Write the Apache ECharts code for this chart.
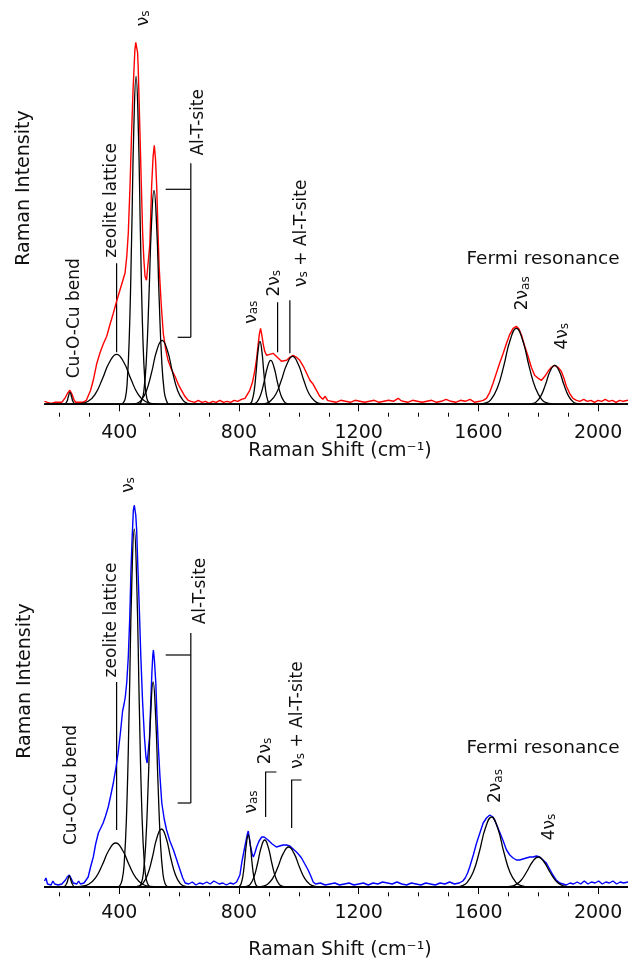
<!DOCTYPE html>
<html lang="en">
<head>
<meta charset="UTF-8">
<title>Raman spectra</title>
<style>
  html, body { margin: 0; padding: 0; background: #fff; }
  #chart { width: 628px; height: 965px; }
</style>
<script src="https://cdn.jsdelivr.net/npm/echarts@6/dist/echarts.min.js"></script>
</head>
<body>
<div id="chart"></div>
<script>
// x range and ticks (cm-1)
var shiftMin = 150, shiftMax = 2100;
var labelTicks = [400, 800, 1200, 1600, 2000];
var smallTicks = [200, 300, 500, 600, 700, 900, 1000, 1100, 1300, 1400, 1500, 1700, 1800, 1900, 2100];

// measured spectrum, top panel (red)  [shift, intensity]
var topSpectrum = [[150,3],[155,5],[160,2],[166,4],[172,1],[178,3],[184,2],[190,4],[196,2],[202,3],[208,2],[214,4],[220,7],[227,11],[235,14],[242,10],[248,5],[254,2],[260,3],[266,2],[272,3],[278,2],[284,3],[290,4],[296,6],[304,14],[313,24],[324,40],[335,51],[346,60],[358,68],[369,80],[380,91],[391,103],[402,114],[411,123],[419,131],[425,148],[430,171],[436,220],[441,271],[446,315],[452,354],[455,362],[458,364],[461,352],[463,338],[466,305],[469,271],[474,215],[478,171],[482,145],[486,128],[491,124],[497,126],[502,160],[508,218],[513,248],[517,259],[521,245],[525,218],[529,175],[533,138],[540,100],[547,71],[555,55],[563,44],[574,35],[586,28],[597,20],[608,14],[619,8],[630,4],[640,3],[652,2],[664,4],[676,2],[688,3],[700,1],[712,3],[724,2],[736,4],[748,2],[760,3],[772,2],[784,4],[796,3],[808,5],[820,6],[828,10],[836,14],[845,22],[853,34],[859,46],[864,60],[868,70],[872,76],[876,70],[881,60],[886,53],[892,49],[903,50],[914,51],[928,47],[942,43],[959,44],[970,47],[981,49],[992,47],[1003,44],[1015,38],[1026,31],[1037,24],[1048,20],[1059,14],[1070,8],[1080,5],[1088,8],[1096,4],[1108,3],[1124,2],[1140,4],[1156,3],[1172,2],[1188,4],[1204,3],[1220,2],[1236,3],[1252,4],[1268,2],[1284,3],[1300,4],[1316,3],[1332,6],[1340,4],[1348,3],[1364,2],[1380,4],[1396,3],[1412,2],[1428,3],[1444,4],[1460,2],[1476,3],[1492,5],[1508,3],[1524,2],[1540,4],[1556,3],[1572,5],[1588,2],[1604,3],[1616,4],[1627,6],[1638,12],[1649,21],[1660,31],[1671,41],[1683,51],[1694,61],[1705,70],[1716,76],[1727,78],[1736,75],[1744,69],[1755,58],[1766,48],[1777,37],[1788,29],[1800,26],[1811,24],[1822,28],[1833,33],[1844,37],[1855,39],[1866,37],[1877,33],[1886,26],[1894,18],[1905,11],[1916,6],[1928,4],[1939,3],[1952,5],[1964,3],[1976,4],[1988,2],[2000,4],[2012,3],[2024,5],[2036,3],[2048,4],[2060,2],[2072,4],[2084,3],[2100,4]];

// measured spectrum, bottom panel (blue)
var bottomSpectrum = [[150,6],[155,9],[160,3],[166,5],[172,2],[178,6],[184,3],[190,5],[196,2],[202,4],[208,3],[214,5],[220,7],[226,10],[233,12],[240,8],[246,4],[252,2],[258,3],[264,6],[270,3],[276,5],[282,4],[288,6],[296,10],[304,20],[313,30],[321,43],[330,54],[338,59],[346,64],[354,71],[363,80],[371,91],[380,104],[388,118],[396,134],[404,155],[411,176],[416,183],[420,190],[425,205],[430,230],[435,270],[439,317],[443,350],[447,377],[450,382],[452,384],[455,372],[458,357],[462,320],[467,277],[472,230],[478,184],[484,150],[489,130],[493,124],[497,124],[501,150],[505,184],[509,215],[512,232],[514,237],[517,228],[522,204],[526,170],[531,137],[536,110],[542,84],[550,68],[558,57],[569,46],[581,37],[592,27],[603,17],[612,9],[620,4],[632,3],[644,5],[656,2],[668,4],[680,3],[692,5],[704,3],[716,6],[722,5],[734,3],[746,4],[758,2],[770,4],[782,3],[792,5],[798,4],[803,12],[809,24],[816,35],[824,47],[828,53],[831,56],[835,48],[839,40],[844,33],[848,30],[853,34],[859,40],[867,46],[876,50],[884,50],[890,49],[897,47],[911,43],[925,40],[936,41],[947,42],[958,42],[970,41],[981,38],[992,35],[1001,32],[1009,29],[1020,23],[1031,17],[1040,11],[1048,5],[1056,3],[1072,4],[1088,2],[1104,3],[1120,4],[1136,2],[1152,3],[1168,4],[1184,2],[1200,3],[1216,4],[1232,2],[1248,4],[1264,3],[1280,5],[1296,4],[1312,3],[1328,5],[1344,3],[1360,2],[1376,4],[1392,3],[1408,2],[1424,4],[1440,3],[1456,2],[1472,4],[1488,3],[1504,5],[1520,3],[1536,4],[1548,6],[1556,9],[1564,14],[1571,20],[1583,32],[1594,44],[1605,54],[1616,64],[1627,69],[1638,72],[1649,70],[1660,63],[1671,55],[1683,46],[1694,37],[1705,32],[1716,29],[1727,27],[1738,27],[1749,28],[1760,29],[1772,30],[1783,30],[1794,31],[1805,30],[1816,27],[1827,24],[1838,18],[1849,12],[1860,7],[1872,4],[1883,3],[1894,2],[1906,4],[1918,3],[1930,5],[1942,3],[1954,6],[1966,3],[1978,5],[1990,4],[2002,6],[2014,3],[2026,5],[2038,4],[2050,6],[2062,3],[2074,5],[2086,4],[2100,5]];

// fitted bands, top panel
var topFits = [
  [[215,0],[225,3],[229,7],[235,12],[241,7],[245,3],[255,0]],
  [[240,0],[267,0.6],[296,3],[320,10.5],[343,25],[367,42],[391,50],[415,42],[439,25],[462,10.5],[486,3],[515,0.6],[540,0]],
  [[405,0],[414,2],[420,6],[426,20],[433.5,69],[441,164],[448.5,276],[456,328],[463.5,276],[471,164],[478.5,69],[486,20],[492,6],[498,2],[507,0]],
  [[465,0],[470,1],[475,4],[482,13],[490.5,45],[499,107],[507.5,180],[516,214],[524.5,180],[533,107],[541.5,45],[550,13],[557,4],[562,1],[567,0]],
  [[440,0],[459,1],[473,4],[490.5,13.4],[508,32],[525.5,54],[543,64],[560.5,54],[578,32],[595.5,13.4],[613,4],[627,1],[645,0]],
  [[830,0],[839,1],[844,4],[850.5,13],[857,31.5],[863.5,53],[870,63],[876.5,53],[883,31.5],[889.5,13],[896,4],[901,1],[910,0]],
  [[840,0],[852,0.8],[861,2.75],[872,9.2],[883.5,22],[895,37],[906,44],[917,37],[928.5,22],[940,9.2],[951,2.75],[960,0.8],[972,0]],
  [[870,0],[889,0.9],[904,3],[923,10],[941.5,24],[960,40],[979,48],[998,40],[1016.5,24],[1035,10],[1054,3],[1069,0.9],[1090,0]],
  [[1600,0],[1625,1.4],[1642,4.75],[1663,16],[1684.5,38],[1706,64],[1727,76],[1748,64],[1769.5,38],[1791,16],[1812,4.75],[1829,1.4],[1855,0]],
  [[1760,0],[1781,0.7],[1793,2.4],[1808.5,8.2],[1824,19.5],[1839.5,33],[1855,39],[1870.5,33],[1886,19.5],[1901.5,8.2],[1917,2.4],[1929,0.7],[1950,0]]
];

// fitted bands, bottom panel
var bottomFits = [
  [[213,0],[223,3],[227,6],[233,11],[239,6],[243,3],[253,0]],
  [[255,0],[271,0.5],[298,2.75],[320.5,9.2],[343,22],[365.5,37],[388,44],[410.5,37],[433,22],[455.5,9.2],[478,2.75],[505,0.5],[525,0]],
  [[395,0],[402,1.4],[409,6.6],[416,22],[424.5,75],[433,179],[441.5,301],[450,358],[458.5,301],[467,179],[475.5,75],[484,22],[491,6.6],[498,1.4],[505,0]],
  [[455,0],[467,0.8],[473.4,3.8],[480,12.8],[488.25,43],[496.5,102.5],[504.75,172],[513,205],[521.25,172],[529.5,102.5],[537.75,43],[546,12.8],[552.6,3.8],[559,0.8],[570,0]],
  [[445,0],[467,1.1],[479,3.6],[494.5,12.2],[510,29],[525.5,49],[541,58],[556.5,49],[572,29],[587.5,12.2],[603,3.6],[615,1.1],[635,0]],
  [[795,0],[802,0.9],[807,3.25],[813,11],[819,26],[825,43.7],[831,52],[837,43.7],[843,26],[849,11],[855,3.25],[860,0.9],[867,0]],
  [[815,0],[828,0.8],[838,2.9],[850,9.9],[862,23.5],[874,39.5],[886,47],[898,39.5],[910,23.5],[922,9.9],[934,2.9],[944,0.8],[957,0]],
  [[860,0],[880,0.8],[894,2.5],[912,8.4],[930,20],[948,33.6],[966,40],[984,33.6],[1002,20],[1020,8.4],[1038,2.5],[1052,0.8],[1072,0]],
  [[1520,0],[1546,1.4],[1562,4.4],[1582.5,14.7],[1603,35],[1623.5,59],[1644,70],[1664.5,59],[1685,35],[1705.5,14.7],[1726,4.4],[1742,1.4],[1770,0]],
  [[1680,0],[1706,0.6],[1722,1.9],[1741.5,6.3],[1761,15],[1780.5,25],[1800,30],[1819.5,25],[1839,15],[1858.5,6.3],[1878,1.9],[1894,0.6],[1915,0]]
];

function nu(sub) { return '{n|ν}{s|' + sub + '}'; }

// band labels, placed in data coordinates
var topNotes = [
  { text: '{t|Cu-O-Cu bend}', at: [245, 86] },
  { text: '{t|zeolite lattice}', at: [369, 204] },
  { text: nu('s'), at: [475, 386] },
  { text: '{t|Al-T-site}', at: [659, 282] },
  { text: nu('as'), at: [836, 92] },
  { text: '{t|2}' + nu('s'), at: [913, 121] },
  { text: nu('s') + '{t| + Al-T-site}', at: [1003, 171] },
  { text: '{f|Fermi resonance}', at: [1816, 146], flat: true },
  { text: '{t|2}' + nu('as'), at: [1744, 111] },
  { text: '{t|4}' + nu('s'), at: [1877, 68] }
];
var bottomNotes = [
  { text: '{t|Cu-O-Cu bend}', at: [237, 102] },
  { text: '{t|zeolite lattice}', at: [369, 267] },
  { text: nu('s'), at: [425, 402] },
  { text: '{t|Al-T-site}', at: [666, 296] },
  { text: nu('as'), at: [836, 85] },
  { text: '{t|2}' + nu('s'), at: [883, 136] },
  { text: nu('s') + '{t| + Al-T-site}', at: [992, 172] },
  { text: '{f|Fermi resonance}', at: [1816, 139], flat: true },
  { text: '{t|2}' + nu('as'), at: [1654, 101] },
  { text: '{t|4}' + nu('s'), at: [1832, 60] }
];
var topLines = [
  [[391, 52], [391, 141]],
  [[639, 241], [639, 67]],
  [[555, 215], [639, 215]],
  [[595, 67], [639, 67]],
  [[929, 52], [929, 102]],
  [[970, 51], [970, 104]]
];
var bottomLines = [
  [[391, 57], [391, 205]],
  [[639, 254], [639, 84]],
  [[555, 232], [639, 232]],
  [[595, 84], [639, 84]],
  [[889, 70], [889, 115], [925, 115]],
  [[976, 59], [976, 107], [1009, 107]]
];

var font = 'DejaVu Sans';
var chart = echarts.init(document.getElementById('chart'));

function shiftAxes(grid) {
  return [{
    type: 'value', gridIndex: grid, min: shiftMin, max: shiftMax, position: 'bottom',
    axisLine: { lineStyle: { color: '#000', width: 1 } },
    axisTick: { customValues: labelTicks, length: 7, lineStyle: { color: '#000' } },
    axisLabel: { customValues: labelTicks, color: '#111', fontSize: 19, fontFamily: font, margin: 11,
      formatter: function (v) { return String(v); } },
    splitLine: { show: false }
  }, {
    type: 'value', gridIndex: grid, min: shiftMin, max: shiftMax, position: 'bottom',
    axisLine: { show: false },
    axisTick: { customValues: smallTicks, length: 4, lineStyle: { color: '#000' } },
    axisLabel: { show: false },
    splitLine: { show: false }
  }];
}

function withBaseline(pts) {
  return [[shiftMin, 0]].concat(pts, [[shiftMax, 0]]);
}

var series = [
  { type: 'line', xAxisIndex: 0, yAxisIndex: 0, data: topSpectrum, showSymbol: false,
    lineStyle: { color: '#ff0000', width: 1.4 }, z: 2 },
  { type: 'line', xAxisIndex: 2, yAxisIndex: 1, data: bottomSpectrum, showSymbol: false,
    lineStyle: { color: '#0000ff', width: 1.4 }, z: 2 }
];
topFits.forEach(function (pts) {
  series.push({ type: 'line', xAxisIndex: 0, yAxisIndex: 0, data: withBaseline(pts), showSymbol: false,
    smooth: 0.5, lineStyle: { color: '#000', width: 1.3 }, z: 3 });
});
bottomFits.forEach(function (pts) {
  series.push({ type: 'line', xAxisIndex: 2, yAxisIndex: 1, data: withBaseline(pts), showSymbol: false,
    smooth: 0.5, lineStyle: { color: '#000', width: 1.3 }, z: 3 });
});

chart.setOption({
  animation: false,
  grid: [
    { left: 44.5, right: 0, top: 20, height: 392.7 },
    { left: 44.5, right: 0, top: 470, height: 422.3 }
  ],
  xAxis: shiftAxes(0).concat(shiftAxes(1)),
  yAxis: [
    { type: 'value', gridIndex: 0, min: -8.4, max: 384.3, show: false },
    { type: 'value', gridIndex: 1, min: -5.3, max: 417, show: false }
  ],
  series: series
});

var rich = {
  t: { fontSize: 17, fontFamily: font, lineHeight: 20, verticalAlign: 'bottom', fill: '#111' },
  f: { fontSize: 18.5, fontFamily: font, lineHeight: 20, verticalAlign: 'bottom', fill: '#111' },
  n: { fontSize: 17, fontFamily: font, lineHeight: 20, verticalAlign: 'bottom', fill: '#111' },
  s: { fontSize: 12, fontFamily: font, lineHeight: 9, verticalAlign: 'bottom', fill: '#111' }
};

var elements = [
  { type: 'text', x: 24, y: 188, rotation: Math.PI / 2,
    style: { text: 'Raman Intensity', font: '19px DejaVu Sans', fill: '#111', align: 'center', verticalAlign: 'middle' } },
  { type: 'text', x: 25, y: 681, rotation: Math.PI / 2,
    style: { text: 'Raman Intensity', font: '19px DejaVu Sans', fill: '#111', align: 'center', verticalAlign: 'middle' } },
  { type: 'text', x: 340, y: 451,
    style: { text: 'Raman Shift (cm⁻¹)', font: '19px DejaVu Sans', fill: '#111', align: 'center', verticalAlign: 'middle' } },
  { type: 'text', x: 340, y: 950,
    style: { text: 'Raman Shift (cm⁻¹)', font: '19px DejaVu Sans', fill: '#111', align: 'center', verticalAlign: 'middle' } }
];

[[topNotes, topLines, 0], [bottomNotes, bottomLines, 1]].forEach(function (panel) {
  var idx = panel[2];
  panel[0].forEach(function (n) {
    var p = chart.convertToPixel({ seriesIndex: idx }, n.at);
    elements.push({ type: 'text', x: p[0], y: p[1], rotation: n.flat ? 0 : Math.PI / 2,
      style: { text: n.text, rich: rich, font: '17px DejaVu Sans', fill: '#111', align: 'center', verticalAlign: 'middle' } });
  });
  panel[1].forEach(function (line) {
    elements.push({ type: 'polyline',
      shape: { points: line.map(function (q) { return chart.convertToPixel({ seriesIndex: idx }, q); }) },
      style: { stroke: '#000', lineWidth: 1.2, fill: null } });
  });
});

chart.setOption({ graphic: elements });
</script>
</body>
</html>
